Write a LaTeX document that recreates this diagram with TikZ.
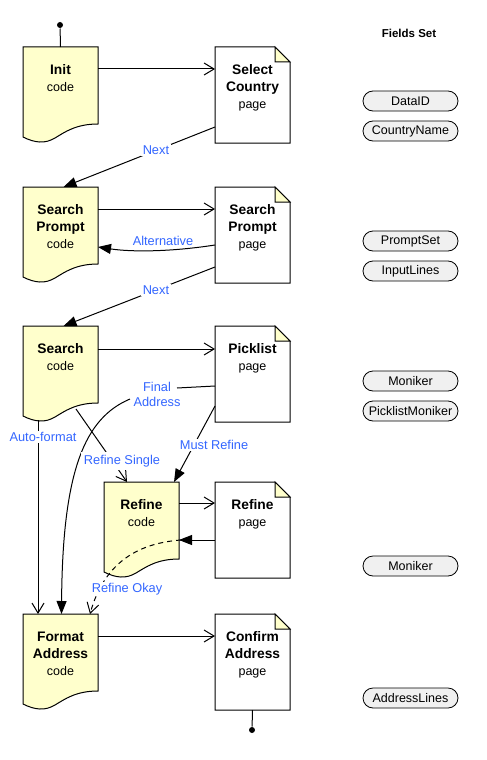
\documentclass[tikz,border=0pt]{standalone}
\usepackage{fontspec}
\setmainfont{Liberation Sans}
\usetikzlibrary{arrows.meta,calc}
\definecolor{lblue}{RGB}{51,102,255}
\definecolor{cyel}{RGB}{255,255,204}
\definecolor{pgray}{RGB}{240,240,240}
\newcommand\subtxt[1]{{\mdseries\fontsize{12.5}{17}\selectfont #1}}
\newcommand\codeshape[1]{\draw[fill=cyel] (#1.north west) -- (#1.north east) -- ($(#1.north east)+(0,77)$) .. controls +(-22,0) and +(10,-6) .. ($(#1.north west)+(32,91)$) .. controls +(-10,6) and +(12,6) .. ($(#1.north west)+(0,90)$) -- cycle;}
\newcommand\pageshape[1]{\draw[fill=white] (#1.north west) -- ($(#1.north east)+(-15,0)$) -- ($(#1.north east)+(0,15)$) -- (#1.south east) -- (#1.south west) -- cycle;
  \draw[fill=cyel] ($(#1.north east)+(-15,0)$) -- ($(#1.north east)+(-15,15)$) -- ($(#1.north east)+(0,15)$) -- cycle;}
\begin{document}
\begin{tikzpicture}[x=1pt,y=-1pt,line width=1pt,
  frame/.style={minimum width=74pt, minimum height=95pt, inner sep=0pt, anchor=north west},
  ttl/.style={anchor=north, align=center, inner sep=0pt, font=\fontsize{13.8}{17}\selectfont\bfseries},
  lbl/.style={text=lblue, font=\fontsize{12.8}{15}\selectfont, inner sep=1.5pt},
  lblw/.style={lbl, fill=white},
  pill/.style={draw, line width=0.8pt, fill=pgray, rounded corners=10pt, minimum width=95pt, minimum height=20pt, inner sep=0pt, font=\fontsize{12.5}{14}\selectfont},
  open/.style={-{Straight Barb[length=10pt,width=12pt]}},
  solidtip/.style={-{Triangle[length=13pt,width=10pt]}},
  dot/.style={circle, fill, inner sep=0pt, minimum size=6pt}]
\fill[white] (0,0) rectangle (487,760);
\useasboundingbox (0,0) rectangle (487,760);
% frames
\node[frame] (init) at (23,47) {};
\node[frame] (sel) at (215,47) {};
\node[frame] (spc) at (23,187) {};
\node[frame] (spp) at (215,187) {};
\node[frame] (sc) at (23,326) {};
\node[frame] (pick) at (215,326) {};
\node[frame] (rc) at (104,482) {};
\node[frame] (rp) at (215,482) {};
\node[frame] (fa) at (23,614) {};
\node[frame] (ca) at (215,614) {};
\codeshape{init}\codeshape{spc}\codeshape{sc}\codeshape{rc}\codeshape{fa}
\pageshape{sel}\pageshape{spp}\pageshape{pick}\pageshape{rp}\pageshape{ca}
% titles
\node[ttl] (initT) at ($(init.north)+(0,17)$) {Init\\\subtxt{code}};
\node[ttl] (selT) at ($(sel.north)+(0,17)$) {Select\\Country\\\subtxt{page}};
\node[ttl] (spcT) at ($(spc.north)+(0,17)$) {Search\\Prompt\\\subtxt{code}};
\node[ttl] (sppT) at ($(spp.north)+(0,17)$) {Search\\Prompt\\\subtxt{page}};
\node[ttl] (scT) at ($(sc.north)+(0,17)$) {Search\\\subtxt{code}};
\node[ttl] (pickT) at ($(pick.north)+(0,17)$) {Picklist\\\subtxt{page}};
\node[ttl] (rcT) at ($(rc.north)+(0,17)$) {Refine\\\subtxt{code}};
\node[ttl] (rpT) at ($(rp.north)+(0,17)$) {Refine\\\subtxt{page}};
\node[ttl] (faT) at ($(fa.north)+(0,17)$) {Format\\Address\\\subtxt{code}};
\node[ttl] (caT) at ($(ca.north)+(0,17)$) {Confirm\\Address\\\subtxt{page}};
% lollipops
\node[dot] (startdot) at (60,25) {};
\draw (startdot) -- (init.north);
\node[dot] (enddot) at (252,730) {};
\draw (ca.south) -- (enddot);
% connectors
\draw[open] ($(init.north east)+(0,22)$) -- ($(sel.north west)+(0,22)$);
\draw[solidtip] ($(sel.north west)+(0,80)$) -- node[lblw, pos=0.39] (next1) {Next} ($(spc.north)+(3,0)$);
\draw[open] ($(spc.north east)+(0,22)$) -- ($(spp.north west)+(0,22)$);
\draw[solidtip] ($(spp.north west)+(0,58)$) .. controls +(-45,7) and +(33,5) .. ($(spc.north east)+(0,60)$);
\node[lbl] (altL) at (163,241) {Alternative};
\draw[solidtip] ($(spp.north west)+(0,80)$) -- node[lblw, pos=0.39] (next2) {Next} ($(sc.north)+(3,0)$);
\draw[open] ($(sc.north east)+(0,23)$) -- ($(pick.north west)+(0,23)$);
% Final Address
\node[lbl, align=center] (faL) at (157,394) {Final\\Address};
\coordinate (faIn) at (177,388);
\coordinate (faOut) at (130,399);
\draw ($(pick.north west)+(0,60)$) -- (faIn);
\draw[solidtip] (faOut) .. controls +(-45,19) and +(1,-144) .. ($(fa.north)+(1,0)$);
% Auto-format
\draw[open] ($(sc.south west)+(15,-2)$) -- ($(fa.north west)+(15,0)$);
\node[lblw] (afL) at (43,437) {Auto-format};
% Refine Single
\draw[open] ($(sc.north west)+(53,83)$) -- ($(rc.north west)+(23,0)$);
\node[lblw, inner sep=3pt] (rsL) at (122,461) {Refine Single};
% Must Refine
\draw[solidtip] ($(pick.north west)+(0,80)$) -- ($(rc.north east)+(-5,0)$);
\node[lblw] (mrL) at (214,445) {Must Refine};
% Refine loop
\draw[open] ($(rc.north east)+(0,21)$) -- ($(rp.north west)+(0,21)$);
\draw[solidtip] ($(rp.north west)+(0,58)$) -- ($(rc.north east)+(0,58)$);
\draw[open, dash pattern=on 5pt off 4pt] ($(rc.north east)+(2,58)$) .. controls +(-40,3) and +(15,-54) .. ($(fa.north west)+(67,0)$);
\node[lblw] (roL) at (127,589) {Refine Okay};
\draw[open] ($(fa.north east)+(0,22)$) -- ($(ca.north west)+(0,22)$);
% Fields Set
\node[font=\fontsize{11.5}{14}\selectfont\bfseries] (fs) at (409,33) {Fields Set};
\node[pill] (p1) at (410.5,101) {DataID};
\node[pill] (p2) at (410.5,131) {CountryName};
\node[pill] (p3) at (410.5,241) {PromptSet};
\node[pill] (p4) at (410.5,271) {InputLines};
\node[pill] (p5) at (410.5,381) {Moniker};
\node[pill] (p6) at (410.5,411) {PicklistMoniker};
\node[pill] (p7) at (410.5,566) {Moniker};
\node[pill] (p8) at (410.5,698) {AddressLines};
\end{tikzpicture}
\end{document}
